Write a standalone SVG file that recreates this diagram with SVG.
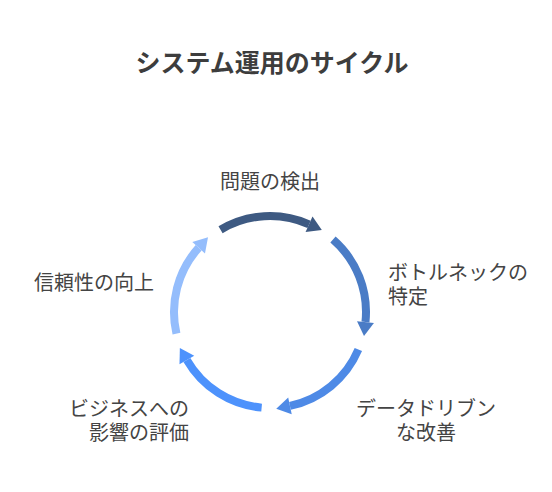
<svg xmlns="http://www.w3.org/2000/svg" width="552" height="492" viewBox="0 0 552 492">
<style>
.title{font-family:"Noto Sans CJK JP","Noto Sans",sans-serif;font-size:25px;font-weight:bold;fill:#3d3d3d}
.lbl{font-family:"Noto Sans CJK JP","Noto Sans",sans-serif;font-size:20px;fill:#444444}
.arc{fill:none;stroke-width:8;stroke-linecap:butt}
</style>
<defs>
<marker id="h1" markerUnits="userSpaceOnUse" markerWidth="30" markerHeight="30" refX="0" refY="0" orient="auto" viewBox="-2 -15 30 30" overflow="visible"><path d="M0,-8.5 L14,0 L0,8.5 Z" fill="#3e5a82"/></marker>
<marker id="h2" markerUnits="userSpaceOnUse" markerWidth="30" markerHeight="30" refX="0" refY="0" orient="auto" viewBox="-2 -15 30 30" overflow="visible"><path d="M0,-8.5 L14,0 L0,8.5 Z" fill="#4a7cc6"/></marker>
<marker id="h3" markerUnits="userSpaceOnUse" markerWidth="30" markerHeight="30" refX="0" refY="0" orient="auto" viewBox="-2 -15 30 30" overflow="visible"><path d="M0,-8.5 L14,0 L0,8.5 Z" fill="#4e8ae6"/></marker>
<marker id="h4" markerUnits="userSpaceOnUse" markerWidth="30" markerHeight="30" refX="0" refY="0" orient="auto" viewBox="-2 -15 30 30" overflow="visible"><path d="M0,-8.5 L14,0 L0,8.5 Z" fill="#4d92fc"/></marker>
<marker id="h5" markerUnits="userSpaceOnUse" markerWidth="30" markerHeight="30" refX="0" refY="0" orient="auto" viewBox="-2 -15 30 30" overflow="visible"><path d="M0,-8.5 L14,0 L0,8.5 Z" fill="#94bdfc"/></marker>
</defs>
<rect width="552" height="492" fill="#ffffff"/>
<text class="title" x="272" y="72" text-anchor="middle">システム運用のサイクル</text>
<g id="connectors">
<path class="arc" stroke="#3e5a82" marker-end="url(#h1)" d="M220.56,229.71 A96,96 0 0 1 309.05,224.30"/>
<path class="arc" stroke="#4a7cc6" marker-end="url(#h2)" d="M332.98,239.55 A96,96 0 0 1 365.47,322.03"/>
<path class="arc" stroke="#4e8ae6" marker-end="url(#h3)" d="M358.37,349.51 A96,96 0 0 1 289.96,405.90"/>
<path class="arc" stroke="#4d92fc" marker-end="url(#h4)" d="M261.63,407.63 A96,96 0 0 1 186.86,360.00"/>
<path class="arc" stroke="#94bdfc" marker-end="url(#h5)" d="M176.46,333.60 A96,96 0 0 1 198.66,247.76"/>
</g>
<g id="node-detect"><text class="lbl" x="270" y="189" text-anchor="middle">問題の検出</text></g>
<g id="node-bottleneck"><text class="lbl" x="388" y="280">ボトルネックの</text><text class="lbl" x="388" y="304">特定</text></g>
<g id="node-improve"><text class="lbl" x="426" y="416" text-anchor="middle">データドリブン</text><text class="lbl" x="426" y="440" text-anchor="middle">な改善</text></g>
<g id="node-impact"><text class="lbl" x="189" y="416" text-anchor="end">ビジネスへの</text><text class="lbl" x="189" y="440" text-anchor="end">影響の評価</text></g>
<g id="node-reliability"><text class="lbl" x="154" y="290" text-anchor="end">信頼性の向上</text></g>
</svg>
